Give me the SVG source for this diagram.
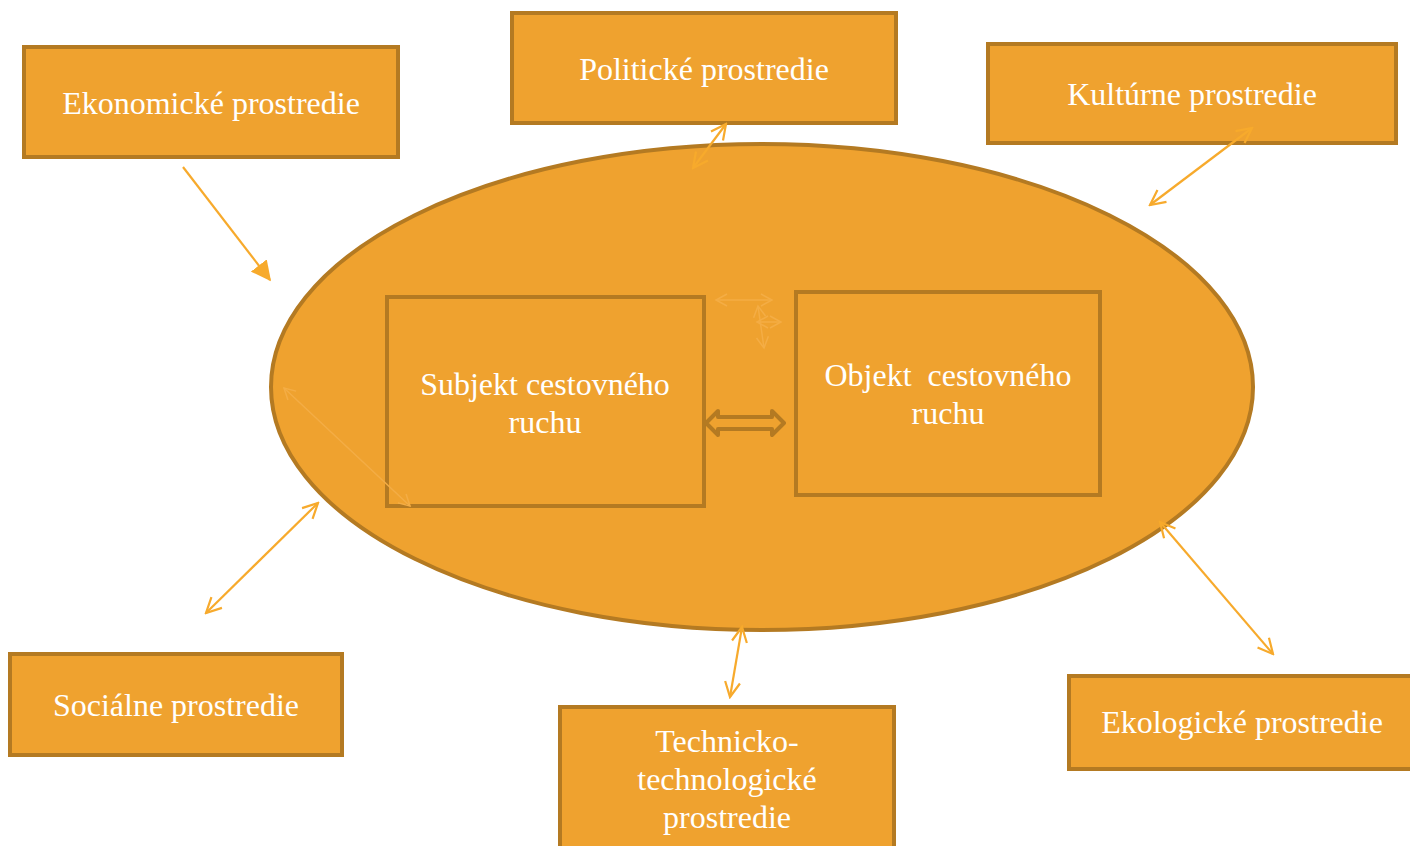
<svg xmlns="http://www.w3.org/2000/svg" width="1410" height="846" viewBox="0 0 1410 846">
<style>
.box{fill:#EFA22F;stroke:#B47A22;stroke-width:4;}
.lbl{font-family:"Liberation Serif","Times New Roman",serif;font-size:32px;fill:#FFFFFF;text-anchor:middle;}
.con{stroke:#F7AA2C;stroke-width:2.2;fill:none;}
.faint{stroke:#F4AD45;stroke-width:1.5;fill:none;}
</style>
<defs>
<marker id="open" viewBox="0 0 18 18" refX="16" refY="9" markerWidth="18" markerHeight="18" markerUnits="userSpaceOnUse" orient="auto-start-reverse">
<path d="M1,1.5 L16,9 L1,16.5" fill="none" stroke="#F7AA2C" stroke-width="2.2"/>
</marker>
<marker id="openf" viewBox="0 0 14 14" refX="12" refY="7" markerWidth="14" markerHeight="14" markerUnits="userSpaceOnUse" orient="auto-start-reverse">
<path d="M1,1 L12,7 L1,13" fill="none" stroke="#F4AD45" stroke-width="1.5"/>
</marker>
<marker id="tri" viewBox="0 0 12 12" refX="11" refY="6" markerWidth="20" markerHeight="20" markerUnits="userSpaceOnUse" orient="auto">
<path d="M0,0 L12,6 L0,12 Z" fill="#F7AA2C"/>
</marker>
</defs>
<g id="ellipse"><ellipse cx="762" cy="387" rx="491" ry="243" class="box"/></g>
<g id="ekonomicke"><rect x="24" y="47" width="374" height="110" class="box"/><text x="211" y="114" class="lbl">Ekonomické prostredie</text></g>
<g id="politicke"><rect x="512" y="13" width="384" height="110" class="box"/><text x="704" y="80" class="lbl">Politické prostredie</text></g>
<g id="kulturne"><rect x="988" y="44" width="408" height="99" class="box"/><text x="1192" y="105" class="lbl">Kultúrne prostredie</text></g>
<g id="socialne"><rect x="10" y="654" width="332" height="101" class="box"/><text x="176" y="716" class="lbl">Sociálne prostredie</text></g>
<g id="technicko"><rect x="560" y="707" width="334" height="150" class="box"/><text x="727" y="752" class="lbl">Technicko-</text><text x="727" y="790" class="lbl">technologické</text><text x="727" y="828" class="lbl">prostredie</text></g>
<g id="ekologicke"><rect x="1069" y="676" width="350" height="93" class="box"/><text x="1242" y="733" class="lbl">Ekologické prostredie</text></g>
<g id="subjekt"><rect x="387" y="297" width="317" height="209" class="box"/><text x="545" y="395" class="lbl">Subjekt cestovného</text><text x="545" y="433" class="lbl">ruchu</text></g>
<g id="objekt"><rect x="796" y="292" width="304" height="203" class="box"/><text x="948" y="386" class="lbl" xml:space="preserve">Objekt  cestovného</text><text x="948" y="424" class="lbl">ruchu</text></g>
<g id="connectors">
<line x1="183" y1="167" x2="270" y2="280" class="con" marker-end="url(#tri)"/>
<line x1="693" y1="168" x2="726" y2="124" class="con" marker-start="url(#open)" marker-end="url(#open)"/>
<line x1="1150" y1="205" x2="1252" y2="128" class="con" marker-start="url(#open)" marker-end="url(#open)"/>
<line x1="206" y1="613" x2="318" y2="503" class="con" marker-start="url(#open)" marker-end="url(#open)"/>
<line x1="730" y1="697" x2="742" y2="627" class="con" marker-start="url(#open)" marker-end="url(#open)"/>
<line x1="1160" y1="522" x2="1273" y2="654" class="con" marker-start="url(#open)" marker-end="url(#open)"/>
<line x1="284" y1="388" x2="410" y2="506" class="faint" marker-start="url(#openf)" marker-end="url(#openf)"/>
<line x1="716" y1="300" x2="772" y2="300" class="faint" marker-start="url(#openf)" marker-end="url(#openf)"/>
<line x1="758" y1="306" x2="764" y2="348" class="faint" marker-start="url(#openf)" marker-end="url(#openf)"/>
<line x1="757" y1="322" x2="781" y2="322" class="faint" marker-start="url(#openf)" marker-end="url(#openf)"/>
<path d="M706,423 L718,411 L718,417 L772,417 L772,411 L784,423 L772,435 L772,429 L718,429 L718,435 Z" fill="#EFA22F" stroke="#B47A22" stroke-width="4" stroke-linejoin="round"/>
</g>
</svg>
